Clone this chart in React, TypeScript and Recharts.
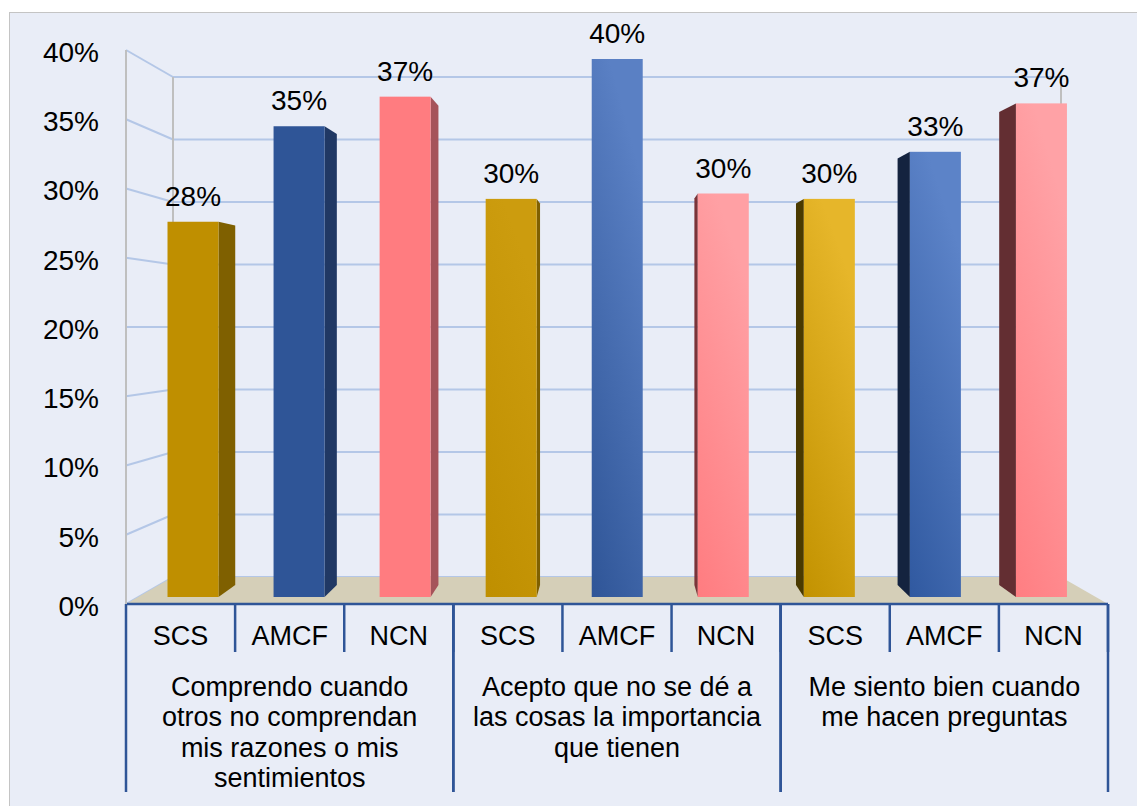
import React from "react";
import {
  Bar,
  BarChart,
  CartesianGrid,
  Customized,
  LabelList,
  XAxis,
  YAxis,
} from "recharts";

// Textos de los grupos (ya partidos en líneas como en el original)
const grupos = [
  ["Comprendo cuando", "otros no comprendan", "mis razones o mis", "sentimientos"],
  ["Acepto que no se dé a", "las cosas la importancia", "que tienen"],
  ["Me siento bien cuando", "me hacen preguntas"],
];
const series = ["SCS", "AMCF", "NCN"];

// Valores (proporciones)
const valoresSCS = [0.279, 0.296, 0.296];
const valoresAMCF = [0.35, 0.4, 0.331];
const valoresNCN = [0.372, 0.3, 0.367];

const ticksY = [0, 0.05, 0.1, 0.15, 0.2, 0.25, 0.3, 0.35, 0.4];

const valores = [valoresSCS, valoresAMCF, valoresNCN];
const data = grupos.flatMap((lineas, g) =>
  series.map((s, i) => ({
    id: `${g}-${s}`,
    grupo: lineas.join(" "),
    serie: s,
    valor: valores[i][g],
  }))
);

// ---- geometría del "3D" ----
const W = 1137;
const H = 806;
const LEFT = 126;
const RIGHT = 1108;
const TOP = 50;
const BOTTOM = 604;
const BACK_LEFT = 173;
const BACK_RIGHT = 1061;
const FRONT_ZERO = 604;
const FRONT_PX = 1385;
const BAR_ZERO = 597;
const BAR_PX = 1345;
const BACK_ZERO = 577;
const BACK_PX = 1250;
const VX = 617;
const VY = 311;
const K = 0.958;
const FONT = "'Liberation Sans', Arial, sans-serif";

const dominio = (zero: number, px: number) => [(zero - BOTTOM) / px, (zero - TOP) / px];

// colores por barra: [arriba, abajo, lateral]
const colores = [
  ["#BF8F00", "#BF8F00", "#7F6000"],
  ["#2F5597", "#2F5597", "#203864"],
  ["#FF7C80", "#FF7C80", "#A5535A"],
  ["#CC9C0E", "#BF8F00", "#7F6000"],
  ["#5A80C4", "#2F5597", "#203864"],
  ["#FFA0A4", "#FF7C80", "#7A3439"],
  ["#E6B62A", "#C29200", "#4A3A00"],
  ["#5C83C8", "#3059A0", "#14233F"],
  ["#FFA2A6", "#FF7E82", "#632E32"],
];

const Paredes = () => {
  const fy = (v: number) => FRONT_ZERO - v * FRONT_PX;
  const by = (v: number) => BACK_ZERO - v * BACK_PX;
  return (
    <g>
      {ticksY.map((v) => (
        <line key={v} x1={LEFT} y1={fy(v)} x2={BACK_LEFT} y2={by(v)} stroke="#B4C7E7" strokeWidth={2} />
      ))}
      <line x1={BACK_LEFT} y1={by(0.4)} x2={BACK_LEFT} y2={by(0)} stroke="#BFBFBF" strokeWidth={2} />
      <line x1={BACK_RIGHT} y1={by(0.4)} x2={BACK_RIGHT} y2={by(0)} stroke="#BFBFBF" strokeWidth={2} />
      <polygon
        points={`${LEFT},${fy(0)} ${RIGHT},${fy(0)} ${BACK_RIGHT},${by(0)} ${BACK_LEFT},${by(0)}`}
        fill="#D5CFB8"
      />
    </g>
  );
};

const Barra3D = (props: any) => {
  const { x, y, width, height, index } = props;
  const [c1, c2, lado] = colores[index];
  const x0 = x;
  const x1 = x + width;
  const y0 = y;
  const y1 = y + height;
  const px = (v: number) => VX + (v - VX) * K;
  const py = (v: number) => VY + (v - VY) * K;
  const id = `grad-${index}`;
  return (
    <g>
      <defs>
        <linearGradient id={id} x1="0" y1="1" x2="0.35" y2="0">
          <stop offset="0" stopColor={c2} />
          <stop offset="1" stopColor={c1} />
        </linearGradient>
      </defs>
      {x1 < VX && (
        <polygon points={`${x1},${y0} ${px(x1)},${py(y0)} ${px(x1)},${py(y1)} ${x1},${y1}`} fill={lado} />
      )}
      {x0 > VX && (
        <polygon points={`${x0},${y0} ${px(x0)},${py(y0)} ${px(x0)},${py(y1)} ${x0},${y1}`} fill={lado} />
      )}
      <rect x={x0} y={y0} width={width} height={height} fill={`url(#${id})`} />
    </g>
  );
};

const TickSerie = (props: any) => {
  const { x, payload } = props;
  const half = payload.offset ?? (RIGHT - LEFT) / 18;
  return (
    <g>
      <line x1={x + half} x2={x + half} y1={BOTTOM} y2={652} stroke="#2F5597" strokeWidth={2.5} />
      <text x={x} y={635} textAnchor="middle" dy="0.36em" fontSize={27} fontFamily={FONT} fill="#000">
        {payload.value}
      </text>
    </g>
  );
};

const TickGrupo = (props: any) => {
  const { x, payload, index } = props;
  const half = payload.offset ?? (RIGHT - LEFT) / 6;
  const lineas = grupos[index] ?? [String(payload.value)];
  return (
    <g>
      <line x1={x - half} x2={x - half} y1={BOTTOM} y2={792} stroke="#2F5597" strokeWidth={2.5} />
      <line x1={x + half} x2={x + half} y1={BOTTOM} y2={792} stroke="#2F5597" strokeWidth={2.5} />
      {lineas.map((l, k) => (
        <text key={k} x={x} y={686 + k * 30.5} textAnchor="middle" dy="0.36em" fontSize={27} fontFamily={FONT} fill="#000">
          {l}
        </text>
      ))}
    </g>
  );
};

const Etiqueta = (p: any) => (
  <text
    x={p.x + p.width / 2}
    y={p.y - 26}
    textAnchor="middle"
    dy="0.36em"
    fontSize={28}
    fontFamily={FONT}
    fill="#000"
  >
    {Math.round(p.value * 100)}%
  </text>
);

const App = () => (
  <div style={{ position: "absolute", left: 0, top: 0, width: W, height: H, background: "#fff", overflow: "hidden" }}>
    <div
      style={{
        position: "absolute",
        left: 9,
        top: 12,
        width: 1140,
        height: 810,
        border: "1.5px solid #C4C4C4",
        background: "#E9EDF7",
      }}
    />
    <div style={{ position: "absolute", left: 0, top: 0 }}>
      <BarChart width={W} height={H} data={data} margin={{ top: TOP, left: LEFT - 100, right: W - RIGHT, bottom: H - BOTTOM - 188 }}>
        <Customized component={<Paredes />} />
        <CartesianGrid
          yAxisId="y3fondo"
          xAxisId="x3barras"
          vertical={false}
          syncWithTicks
          x={BACK_LEFT}
          width={BACK_RIGHT - BACK_LEFT}
          stroke="#B4C7E7"
          strokeWidth={2}
        />
        <XAxis xAxisId="x1serie" dataKey="serie" height={48} interval={0} axisLine={{ stroke: "#2F5597", strokeWidth: 2.5 }} tickLine={false} tick={<TickSerie />} />
        <XAxis xAxisId="x2grupo" dataKey="grupo" allowDuplicatedCategory={false} height={140} interval={0} axisLine={false} tickLine={false} tick={<TickGrupo />} />
        <XAxis xAxisId="x3barras" dataKey="id" hide height={0} padding={{ left: 13.5, right: 14 }} />
        <YAxis
          yAxisId="y1front"
          width={100}
          domain={[0, 0.4]}
          allowDataOverflow
          ticks={ticksY}
          tickFormatter={(v: number) => `${Math.round(v * 100)}%`}
          axisLine={{ stroke: "#BFBFBF", strokeWidth: 2 }}
          tickLine={false}
          tickSize={0}
          tickMargin={27}
          tick={{ fontSize: 28, fontFamily: FONT, fill: "#000", dy: 2 }}
        />
        <YAxis yAxisId="y2barras" hide width={0} domain={dominio(BAR_ZERO, BAR_PX)} allowDataOverflow />
        <YAxis yAxisId="y3fondo" hide width={0} domain={dominio(BACK_ZERO, BACK_PX)} allowDataOverflow ticks={ticksY} />
        <Bar xAxisId="x3barras" yAxisId="y2barras" dataKey="valor" barSize={51} shape={<Barra3D />} isAnimationActive={false}>
          <LabelList dataKey="valor" content={<Etiqueta />} />
        </Bar>
      </BarChart>
    </div>
  </div>
);

export default App;
